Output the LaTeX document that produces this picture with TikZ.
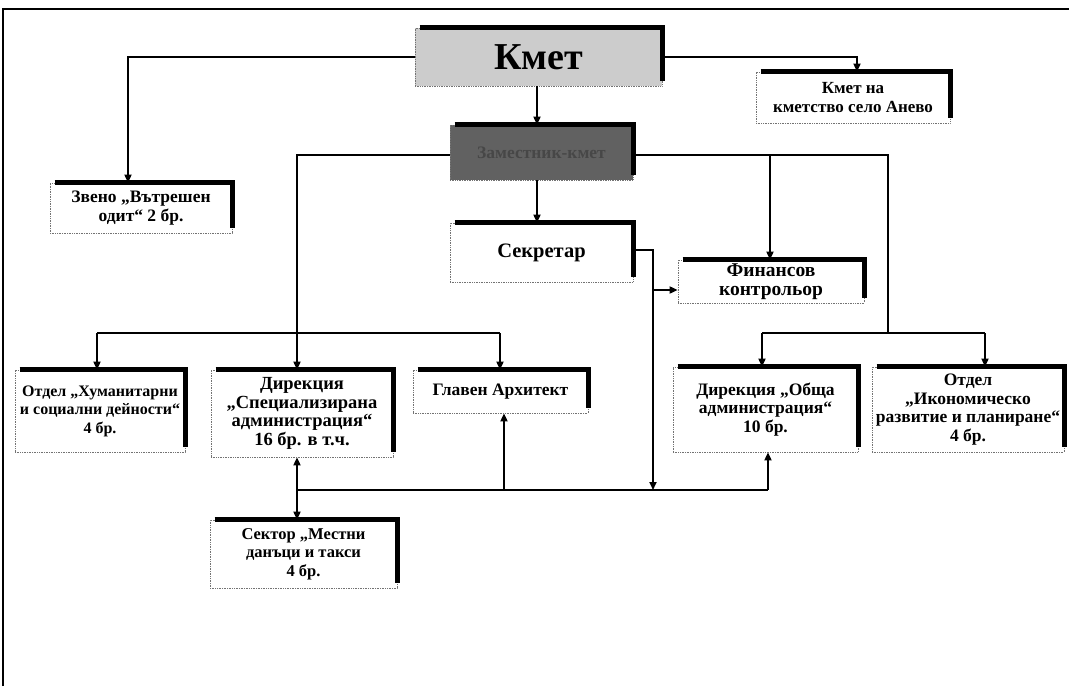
\documentclass[tikz,border=0pt]{standalone}
\usepackage{fontspec}
\setmainfont{Liberation Serif}
\usetikzlibrary{arrows.meta}
\begin{document}
\begin{tikzpicture}[x=1pt,y=-1pt,
  box/.style={draw=black!55, densely dotted, line width=0.7pt, fill=white, align=center,
    font=\bfseries\fontsize{17.5}{18.5}\selectfont, inner sep=2pt},
  fs/.style={font=\bfseries\fontsize{#1}{18.5}\selectfont},
  conn/.style={line width=1.7pt, -{Triangle[length=8pt,width=7pt]}},
  line/.style={line width=1.7pt},
  shadowbar/.style={line width=4.5pt, line join=miter}]
\useasboundingbox (0,0) rectangle (1069,686);
% frame
\draw[line width=1.5pt] (3,686) -- (3,9) -- (1069,9);
% boxes
\node[box, fill=black!20, minimum width=247pt, minimum height=58pt,
  font=\bfseries\fontsize{38}{40}\selectfont] (kmet) at (538.5,57) {Кмет};
\node[box, fs=17, minimum width=194pt, minimum height=51pt] (anevo) at (853,97.5) {Кмет на\\кметство село Анево};
\node[box, fill=black!62, text=black!72, minimum width=183pt, minimum height=55pt] (zam) at (541.5,152.5) {Заместник-кмет};
\node[box, fs=17.5, minimum width=182pt, minimum height=50pt] (zveno) at (141,208) {Звено „Вътрешен\\одит“ 2 бр.};
\node[box, fs=20.5, minimum width=183pt, minimum height=59pt] (sekr) at (541.5,252.5) {Секретар};
\node[box, fs=19.5, minimum width=186pt, minimum height=43pt] (fin) at (771,281.5) {Финансов\\контрольор};
\node[box, fs=16, minimum width=170pt, minimum height=82pt] (hum) at (100,411) {Отдел „Хуманитарни\\и социални дейности“\\4 бр.};
\node[box, fs=18.5, minimum width=182pt, minimum height=87pt] (spec) at (302,413.5) {Дирекция\\„Специализирана\\администрация“\\16 бр. в т.ч.};
\node[box, fs=17.5, minimum width=175pt, minimum height=43pt] (arch) at (500.5,391.5) {Главен Архитект};
\node[box, fs=17.5, minimum width=185pt, minimum height=85pt] (obsh) at (765.5,409.5) {Дирекция „Обща\\администрация“\\10 бр.};
\node[box, fs=17.5, minimum width=192pt, minimum height=85pt] (ikon) at (968,409.5) {Отдел\\„Икономическо\\развитие и планиране“\\4 бр.};
\node[box, fs=16.5, minimum width=187pt, minimum height=68pt] (sektor) at (303.5,554) {Сектор „Местни\\данъци и такси\\4 бр.};
% shadow bars (thick top and right edges)
\foreach \n in {kmet,anevo,zam,zveno,sekr,fin,hum,spec,arch,obsh,ikon,sektor}
  \draw[shadowbar] ([xshift=5pt]\n.north west) -- (\n.north east) -- ([yshift=5pt]\n.south east);
% junction coordinates
\coordinate (kL) at (128,57);
\coordinate (kR) at (857,57);
\coordinate (zL) at (297,155);
\coordinate (zR) at (888,155);
\coordinate (zF) at (770,155);
\coordinate (lbL) at (97,333);
\coordinate (lbR) at (500,333);
\coordinate (rbL) at (762,333);
\coordinate (rbM) at (888,333);
\coordinate (rbR) at (985,333);
\coordinate (sA) at (653,250);
\coordinate (sB) at (653,290);
\coordinate (sC) at (653,490);
\coordinate (bL) at (297,490);
\coordinate (bA) at (504,490);
\coordinate (bR) at (768,490);
% connectors
\draw[conn] (kmet.west |- kL) -- (kL) -- (kL |- zveno.north);
\draw[conn] (kmet.east |- kR) -- (kR) -- (kR |- anevo.north);
\draw[conn] (kmet.south -| 537,0) -- (zam.north -| 537,0);
\draw[conn] (zam.south -| 537,0) -- (sekr.north -| 537,0);
\draw[conn] (zam.west |- zL) -- (zL) -- (zL |- spec.north);
\draw[line] (lbL) -- (lbR);
\draw[conn] (lbL) -- (lbL |- hum.north);
\draw[conn] (lbR) -- (lbR |- arch.north);
\draw[line] (zam.east |- zR) -- (zR) -- (rbM);
\draw[conn] (zF) -- (zF |- fin.north);
\draw[line] (rbL) -- (rbR);
\draw[conn] (rbL) -- (rbL |- obsh.north);
\draw[conn] (rbR) -- (rbR |- ikon.north);
\draw[conn] (sekr.east |- sA) -- (sA) -- (sC);
\draw[conn] (sB) -- (fin.west |- sB);
\draw[line] (bL) -- (bR);
\draw[conn] (bL) -- (bL |- spec.south);
\draw[conn] (bL) -- (bL |- sektor.north);
\draw[conn] (bA) -- (bA |- arch.south);
\draw[conn] (bR) -- (bR |- obsh.south);
\end{tikzpicture}
\end{document}
